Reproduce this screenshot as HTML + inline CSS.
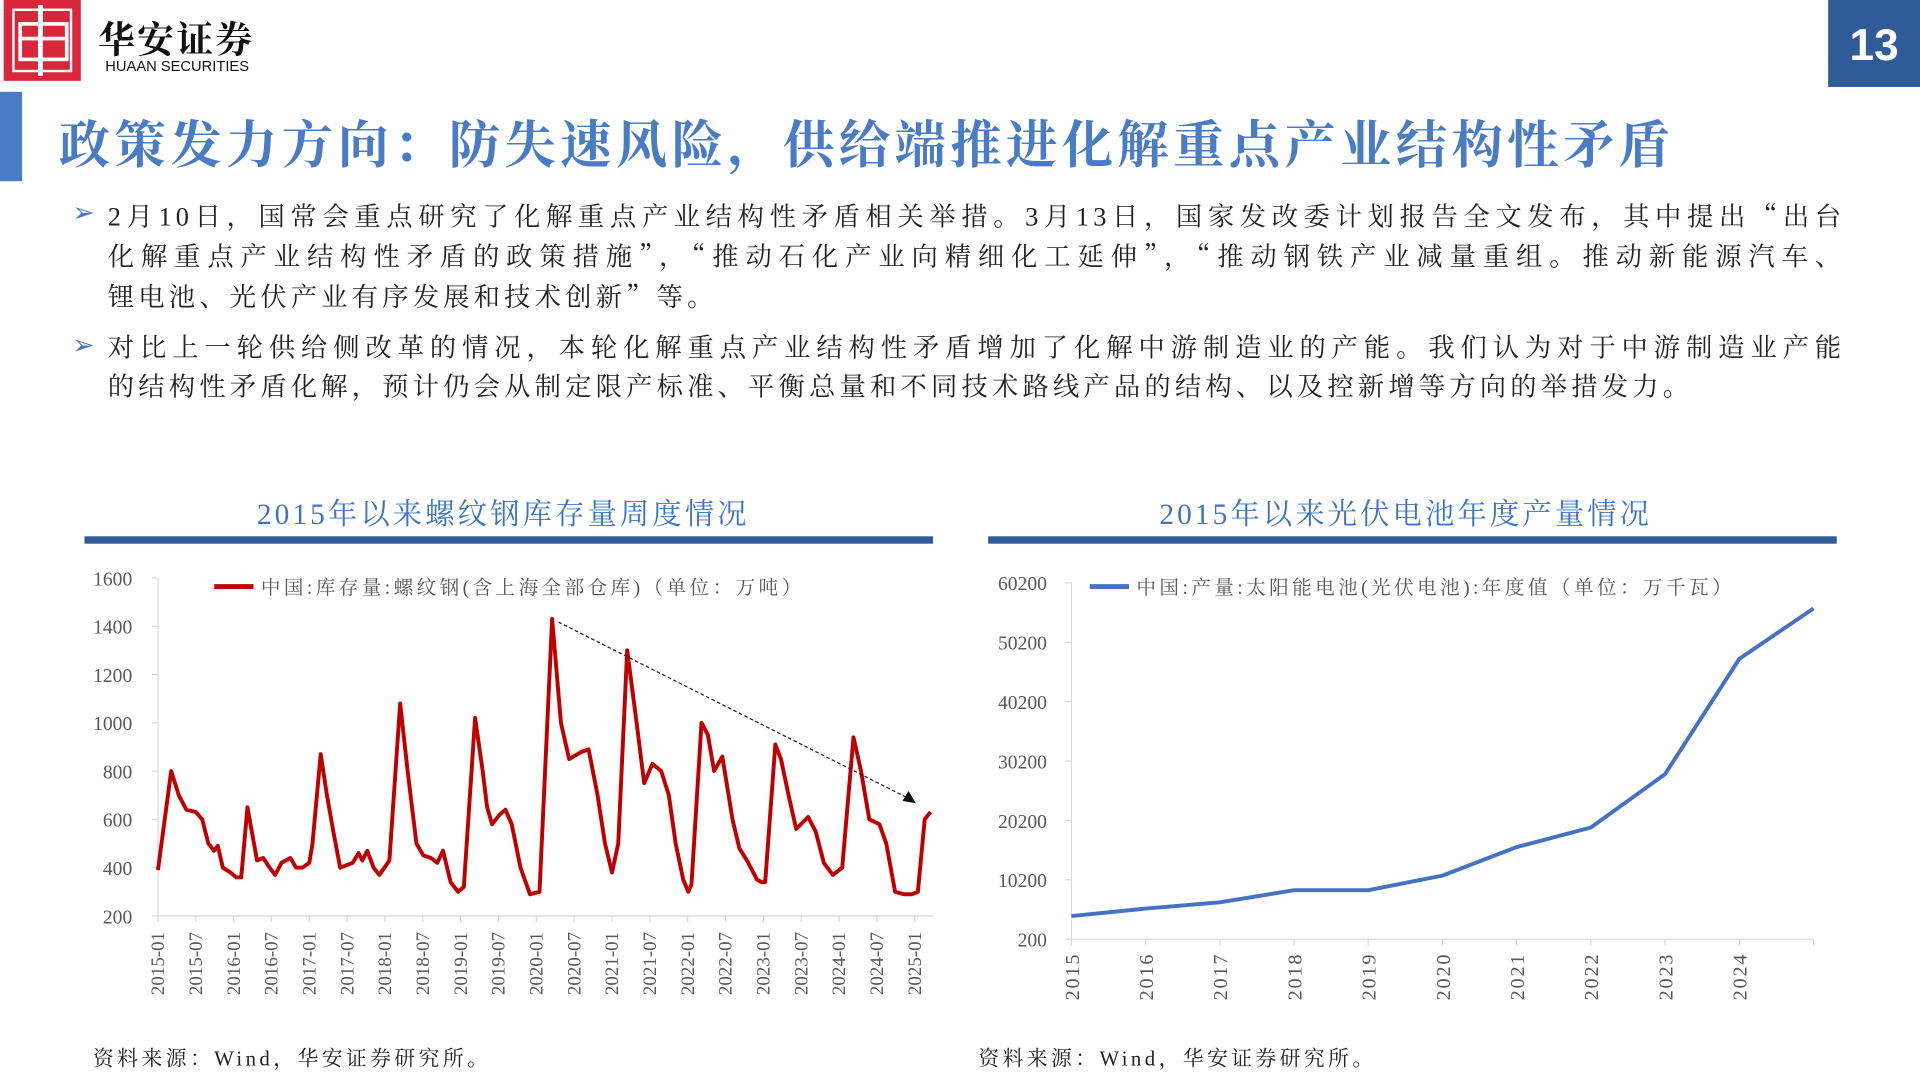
<!DOCTYPE html>
<html><head><meta charset="utf-8">
<style>
html,body{margin:0;padding:0;background:#fff;overflow:hidden;width:1920px;height:1080px}
#page{position:absolute;left:0;top:0;width:1568px;height:882px;transform:scale(1.22449);transform-origin:0 0;font-family:"Liberation Serif","Noto Serif CJK SC",serif;color:#222}
.abs{position:absolute}
.line{white-space:nowrap;font-size:21.5px;line-height:32px;letter-spacing:3.4px;text-align:justify;text-align-last:justify;width:1419px}
.last{text-align-last:left}
.q{font-family:"Noto Serif CJK SC",serif}
</style></head>
<body>
<div id="page">
  <div class="abs" style="left:3px;top:0;width:63px;height:66px;background:#d9263a">
    <div class="abs" style="left:7px;top:7px;width:45px;height:48px;border:2px solid #fff"></div>
    <div class="abs" style="left:12px;top:18px;width:35px;height:26px;border:3px solid #fff"></div>
    <div class="abs" style="left:28px;top:4px;width:4px;height:58px;background:#fff"></div>
    <div class="abs" style="left:12px;top:30px;width:38px;height:3px;background:#fff"></div>
  </div>
  <div class="abs" style="left:80px;top:8px;font-family:'Noto Serif CJK SC',serif;font-size:30px;font-weight:bold;letter-spacing:2px;color:#111">华安证券</div>
  <div class="abs" style="left:86px;top:47px;font-family:'Liberation Sans',sans-serif;font-size:12px;color:#111">HUAAN SECURITIES</div>
  <div class="abs" style="left:1493px;top:0;width:75px;height:71px;background:#2f5b96;color:#fff;font-family:'Liberation Sans',sans-serif;font-weight:bold;font-size:36px;line-height:74px;text-align:center">13</div>
  <div class="abs" style="left:0;top:75px;width:18px;height:73px;background:#4a7cc5"></div>
  <div class="abs" style="left:48px;top:86px;font-family:'Noto Serif CJK SC',serif;font-weight:bold;font-size:42px;letter-spacing:3.5px;color:#4a7cc5;white-space:nowrap">政策发力方向：防失速风险，供给端推进化解重点产业结构性矛盾</div>

  <div class="abs" style="left:59px;top:161px;color:#4a7cc5;font-size:22px">➢</div>
  <div class="abs" style="left:88px;top:160px">
    <div class="line">2月10日，国常会重点研究了化解重点产业结构性矛盾相关举措。3月13日，国家发改委计划报告全文发布，其中提出<span class="q">“</span>出台</div>
    <div class="line">化解重点产业结构性矛盾的政策措施<span class="q">”</span>，<span class="q">“</span>推动石化产业向精细化工延伸<span class="q">”</span>，<span class="q">“</span>推动钢铁产业减量重组。推动新能源汽车、</div>
    <div class="line last">锂电池、光伏产业有序发展和技术创新<span class="q">”</span>等。</div>
  </div>
  <div class="abs" style="left:59px;top:269px;color:#4a7cc5;font-size:22px">➢</div>
  <div class="abs" style="left:88px;top:268px">
    <div class="line">对比上一轮供给侧改革的情况，本轮化解重点产业结构性矛盾增加了化解中游制造业的产能。我们认为对于中游制造业产能</div>
    <div class="line last">的结构性矛盾化解，预计仍会从制定限产标准、平衡总量和不同技术路线产品的结构、以及控新增等方向的举措发力。</div>
  </div>

  <svg id="charts" class="abs" style="left:0;top:0" width="1568" height="882"></svg>
</div>
<script>
// ---------- Left chart data: rebar inventory (万吨) ----------
const rebarMonths = [0,2.1,3.3,4.5,6,7,8,8.9,9.5,10.3,11.5,12.4,13.2,14.2,15.7,16.7,17.7,18.6,19.6,21,21.9,22.9,24,24.5,25.8,26.8,27.8,28.9,30.9,31.8,32.4,33.2,34.2,35.1,36.7,38.4,39.6,41,42.1,43.3,44.3,45.2,46.4,47.6,48.5,50.3,51.5,52.2,53,54.2,55.1,56.1,57.5,59,60.5,62.5,63.9,65.2,67.2,68.3,69.7,70.9,72,73,74.4,75.9,77.1,78.4,79.8,81,82.1,83.3,84.1,84.6,86.2,87.2,88.2,89.5,91.1,92.2,93.4,95,95.7,96.3,97.9,98.8,100,101.2,103.1,104.3,105.6,107,108.5,110.3,111.5,112.8,114.4,115.5,116.9,118.3,119.6,120.5,121.6,122.5];
const rebarValues = [390,800,700,640,630,600,500,470,490,400,380,360,360,650,430,440,400,370,420,440,400,400,420,500,870,700,550,400,420,460,430,470,400,370,430,1080,800,500,450,440,420,470,340,300,320,1020,800,650,580,620,640,580,400,290,300,1430,1000,850,880,890,700,500,380,500,1300,1000,750,830,800,700,500,350,300,330,1000,950,800,860,600,480,430,350,340,340,910,850,700,560,610,550,420,370,400,940,800,600,580,500,300,290,290,300,600,630];
const rebarYTicks = [200,400,600,800,1000,1200,1400,1600];
const rebarXLabels = ["2015-01","2015-07","2016-01","2016-07","2017-01","2017-07","2018-01","2018-07","2019-01","2019-07","2020-01","2020-07","2021-01","2021-07","2022-01","2022-07","2023-01","2023-07","2024-01","2024-07","2025-01"];
// ---------- Right chart data: solar cell output (万千瓦) ----------
const pvYears = ["2015","2016","2017","2018","2019","2020","2021","2022","2023","2024","2025"];
const pvValues = [4100,5350,6400,8450,8450,10900,15700,19000,28000,47400,55900];
const pvYTicks = [200,10200,20200,30200,40200,50200,60200];

const NS="http://www.w3.org/2000/svg";
const svg=document.getElementById('charts');
function mk(tag,attrs,parent){const e=document.createElementNS(NS,tag);for(const k in attrs)e.setAttribute(k,attrs[k]);(parent||svg).appendChild(e);return e;}
function txt(s,attrs,parent){const e=mk('text',attrs,parent);e.textContent=s;return e;}
const SERIF='"Liberation Serif","Noto Serif CJK SC",serif';

// ---- Left chart ----
const L={x0:129,x1:747,y0:748,y1:472,vmin:200,vmax:1600,mmax:120};
const lx=m=>L.x0+(m/L.mmax)*(L.x1-L.x0);
const ly=v=>L.y0-(v-L.vmin)/(L.vmax-L.vmin)*(L.y0-L.y1);
const lt=txt("2015年以来螺纹钢库存量周度情况",{x:411,y:428,'text-anchor':'middle','font-size':24,'letter-spacing':2.5,fill:'#3f74c0','font-family':SERIF});


const lb=mk('rect',{x:69,y:438,width:693,height:6,fill:'#2f5b96'});


const lax=mk('line',{x1:L.x0,y1:L.y1,x2:L.x0,y2:L.y0,stroke:'#d9d9d9','stroke-width':1});


const lxx=mk('line',{x1:L.x0,y1:L.y0,x2:762,y2:L.y0,stroke:'#d9d9d9','stroke-width':1});


rebarYTicks.forEach(v=>{
  mk('line',{x1:L.x0-5,y1:ly(v),x2:L.x0,y2:ly(v),stroke:'#d9d9d9'});
  const t=txt(String(v),{x:108,y:ly(v)+6,'text-anchor':'end','font-size':16,fill:'#595959','font-family':SERIF});
  
  
});
rebarXLabels.forEach((s,i)=>{
  const x=lx(i*6);
  mk('line',{x1:x,y1:L.y0,x2:x,y2:L.y0+5,stroke:'#d9d9d9'});
  const t=txt(s,{x:0,y:0,'text-anchor':'end','font-size':15.5,fill:'#595959','font-family':SERIF,transform:`translate(${x+5},${L.y0+13}) rotate(-90)`});
  
  
});
const rp=mk('polyline',{points:rebarMonths.map((m,i)=>lx(m).toFixed(1)+','+ly(rebarValues[i]).toFixed(1)).join(' '),fill:'none',stroke:'#c00000','stroke-width':3.2,'stroke-linejoin':'round'});


const tr=mk('line',{x1:456,y1:508,x2:740,y2:651,stroke:'#222','stroke-width':1,'stroke-dasharray':'3,2'});


const ah=mk('polygon',{points:'748,656 737,654 742,646',fill:'#111'});


const lgl=mk('line',{x1:175,y1:479,x2:207,y2:479,stroke:'#c00000','stroke-width':4});


const lgt=txt("中国:库存量:螺纹钢(含上海全部仓库)（单位：万吨）",{x:213,y:485,'font-size':16,fill:'#595959','font-family':SERIF,'letter-spacing':2.8});


const ls=txt("资料来源：Wind，华安证券研究所。",{x:76,y:870,'font-size':17,fill:'#222','font-family':SERIF,'letter-spacing':2.8});



// ---- Right chart ----
const R={x0:875,step:60.6,y0:767,y1:476,vmin:200,vmax:60200};
const rx=i=>R.x0+i*R.step;
const ry=v=>R.y0-(v-R.vmin)/(R.vmax-R.vmin)*(R.y0-R.y1);
const rt=txt("2015年以来光伏电池年度产量情况",{x:1148,y:428,'text-anchor':'middle','font-size':24,'letter-spacing':2.5,fill:'#3f74c0','font-family':SERIF});


const rb=mk('rect',{x:807,y:438,width:693,height:6,fill:'#2f5b96'});


const ray=mk('line',{x1:R.x0,y1:R.y1,x2:R.x0,y2:R.y0,stroke:'#d9d9d9'});


const rax=mk('line',{x1:R.x0,y1:R.y0,x2:rx(pvYears.length-1),y2:R.y0,stroke:'#d9d9d9'});


pvYTicks.forEach(v=>{
  mk('line',{x1:R.x0-5,y1:ry(v),x2:R.x0,y2:ry(v),stroke:'#d9d9d9'});
  const t=txt(String(v),{x:855,y:ry(v)+6,'text-anchor':'end','font-size':16,fill:'#595959','font-family':SERIF});
  
  
});
pvYears.forEach((s,i)=>{
  const x=rx(i);
  mk('line',{x1:x,y1:R.y0,x2:x,y2:R.y0+5,stroke:'#d9d9d9'});
  if(i<pvYears.length-1){
    const t=txt(s,{x:0,y:0,'text-anchor':'end','font-size':16.5,'letter-spacing':1.5,fill:'#595959','font-family':SERIF,transform:`translate(${x+6},${R.y0+11}) rotate(-90)`});
    
    
  }
});
const pp=mk('polyline',{points:pvValues.map((v,i)=>rx(i).toFixed(1)+','+ry(v).toFixed(1)).join(' '),fill:'none',stroke:'#4472c4','stroke-width':3.2,'stroke-linejoin':'round'});


const rgl=mk('line',{x1:890,y1:479,x2:922,y2:479,stroke:'#4472c4','stroke-width':4});


const rgt=txt("中国:产量:太阳能电池(光伏电池):年度值（单位：万千瓦）",{x:928,y:485,'font-size':16,fill:'#595959','font-family':SERIF,'letter-spacing':2.8});


const rs=txt("资料来源：Wind，华安证券研究所。",{x:799,y:870,'font-size':17,fill:'#222','font-family':SERIF,'letter-spacing':2.8});


</script>
</body></html>
